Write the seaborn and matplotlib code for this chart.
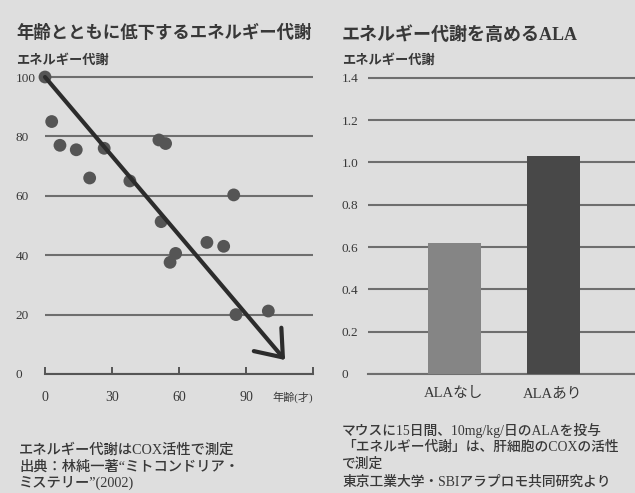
import matplotlib
matplotlib.use("Agg")
import matplotlib.pyplot as plt
import seaborn as sns
import pandas as pd

# ---- data ----
ages = [0, 3, 6.7, 14, 20, 26.5, 38, 51, 54, 52, 56, 58.5, 72.5, 80, 84.5, 85.5, 100]
metabolism = [100, 85, 77, 75.5, 66, 76, 65, 78.8, 77.6, 51.3, 37.6, 40.6, 44.3, 43, 60.3, 20, 21.2]
trend_start = (0, 100)
trend_end = (107.5, 4.7)
age_ticks = [0, 30, 60, 90, 120]
age_tick_labels = ["0", "30", "60", "90", ""]
left_yticks = [0, 20, 40, 60, 80, 100]
left_ytick_labels = ["0", "20", "40", "60", "80", "100"]

groups = ["ALAなし", "ALAあり"]
ala_values = [0.62, 1.03]
right_yticks = [0, 0.2, 0.4, 0.6, 0.8, 1.0, 1.2, 1.4]
right_ytick_labels = ["0", "0.2", "0.4", "0.6", "0.8", "1.0", "1.2", "1.4"]

title_left = "年齢とともに低下するエネルギー代謝"
title_right = "エネルギー代謝を高めるALA"
ylabel_text = "エネルギー代謝"
xlabel_left = "年齢(才)"
notes_left = ["エネルギー代謝はCOX活性で測定",
              "出典：林純一著“ミトコンドリア・",
              "ミステリー”(2002)"]
notes_right = ["マウスに15日間、10mg/kg/日のALAを投与",
               "「エネルギー代謝」は、肝細胞のCOXの活性",
               "で測定",
               "東京工業大学・SBIアラプロモ共同研究より"]

# ---- style ----
BG = "#dedede"
TXT = "#383838"
GRID = "#6e6e6e"
sns.set_style("white")
plt.rcParams['font.family'] = ['Liberation Serif', 'Noto Sans CJK JP', 'DejaVu Sans']
plt.rcParams['text.color'] = TXT
plt.rcParams['xtick.color'] = TXT
plt.rcParams['ytick.color'] = TXT

W, H = 635, 493
fig = plt.figure(figsize=(W / 100, H / 100), dpi=100, facecolor=BG)

# left axes: y 0->374px, 100->77px ; x 0->45px, 120->313px
ppu_l = (374 - 77) / 100
ytop_l = 104
axL = fig.add_axes([45 / W, (H - 374) / H, 268 / W, ppu_l * ytop_l / H])
axL.set_facecolor(BG)
sns.scatterplot(x=ages, y=metabolism, ax=axL, s=85, color="#555555",
                edgecolor="none", clip_on=False, zorder=3)
axL.annotate("", xy=trend_end, xytext=trend_start,
             arrowprops=dict(arrowstyle="->,head_length=0.85,head_width=0.65",
                             lw=3, color="#2c2c2c", shrinkA=0, shrinkB=0,
                             mutation_scale=20),
             annotation_clip=False, zorder=4)
axL.set_xlim(0, 120)
axL.set_ylim(0, ytop_l)
axL.set_yticks(left_yticks, left_ytick_labels)
axL.set_xticks(age_ticks, age_tick_labels)
axL.grid(axis='y', color=GRID, lw=1.5)
axL.grid(axis='x', visible=False)
for s in ["top", "right", "left"]:
    axL.spines[s].set_visible(False)
axL.spines["bottom"].set_color("#555555")
axL.spines["bottom"].set_linewidth(1.5)
axL.tick_params(axis='x', direction='in', length=5, width=1.4, color="#555555",
                pad=12, labelsize=10, bottom=True)
axL.tick_params(axis='y', length=0, pad=21, labelsize=9.5)
for lbl in axL.get_yticklabels():
    lbl.set_horizontalalignment('left')
axL.annotate(xlabel_left, xy=(120, 0), xytext=(0, -16.5), textcoords='offset points',
             ha='right', va='center', fontsize=8, annotation_clip=False)
axL.set_xlabel("")
axL.set_ylabel("")

# right axes: y 0->374px, 1.4->77.7px ; bars centered at 454 & 553 px
ppu_r = (374 - 77.7) / 1.4
ytop_r = 1.45
axR = fig.add_axes([368 / W, (H - 374) / H, 267 / W, ppu_r * ytop_r / H])
axR.set_facecolor(BG)
df = pd.DataFrame({"group": groups, "value": ala_values})
sns.barplot(data=df, x="group", y="value", hue="group",
            palette=["#858585", "#484848"], width=0.535, saturation=1,
            legend=False, ax=axR, zorder=3, edgecolor="none", linewidth=0)
axR.set_axisbelow(True)
axR.set_xlim(-0.869, 1.828)
axR.set_ylim(0, ytop_r)
axR.set_yticks(right_yticks, right_ytick_labels)
axR.grid(axis='y', color=GRID, lw=1.5)
axR.grid(axis='x', visible=False)
for s in ["top", "right", "left"]:
    axR.spines[s].set_visible(False)
axR.spines["bottom"].set_color(GRID)
axR.spines["bottom"].set_linewidth(1.5)
axR.tick_params(axis='x', length=0, pad=9.5, labelsize=10.5)
axR.tick_params(axis='y', length=0, pad=19, labelsize=9.5)
for lbl in axR.get_yticklabels():
    lbl.set_horizontalalignment('left')
axR.set_xlabel("")
axR.set_ylabel("")

# ---- titles and notes ----
fig.text(16 / W, 1 - 33 / H, title_left, fontsize=12.5, fontweight='bold', va='center')
fig.text(16 / W, 1 - 60 / H, ylabel_text, fontsize=9.5, fontweight='bold', va='center')
fig.text(342 / W, 1 - 35 / H, title_right, fontsize=13, fontweight='bold', va='center')
fig.text(342 / W, 1 - 60 / H, ylabel_text, fontsize=9.5, fontweight='bold', va='center')

for i, line in enumerate(notes_left):
    fig.text(19 / W, 1 - (450 + 16.6 * i) / H, line, fontsize=10.3,
             fontweight='medium', va='center')
for i, line in enumerate(notes_right):
    fig.text(342 / W, 1 - (430 + 17.2 * i) / H, line, fontsize=9.9,
             fontweight='medium', va='center')

fig.savefig("out.png", dpi=100, facecolor=BG)
